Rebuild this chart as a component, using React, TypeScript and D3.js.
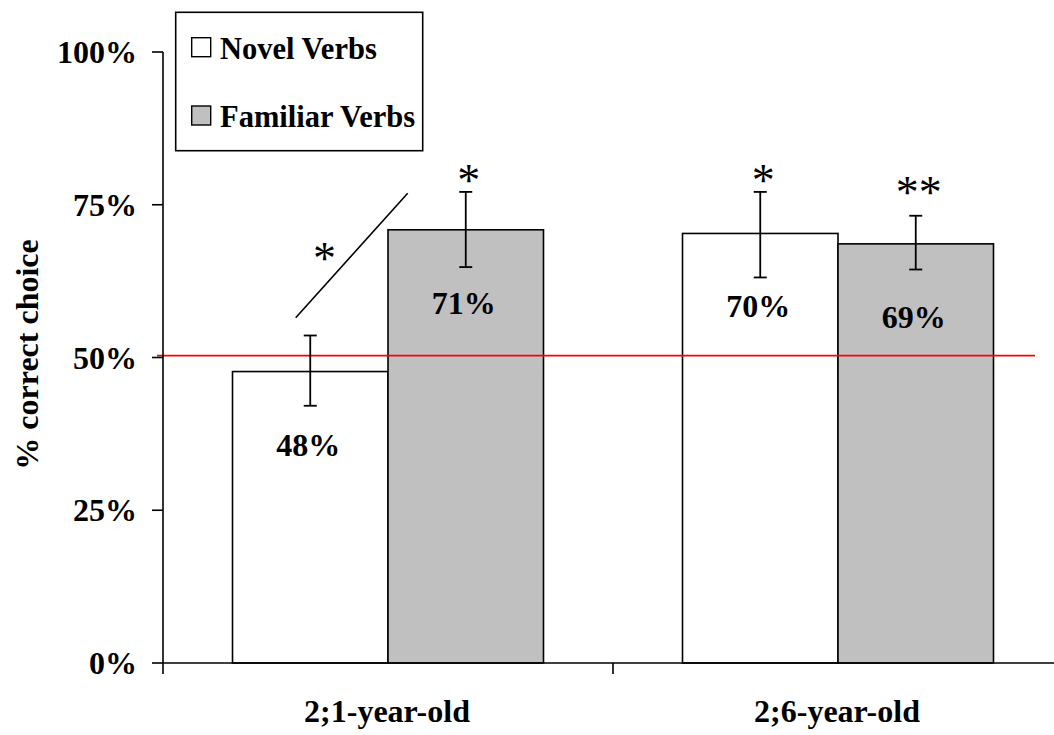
import React from "react";
import * as d3 from "d3";

const categories = ["2;1-year-old", "2;6-year-old"];
const seriesNames = ["Novel Verbs", "Familiar Verbs"];
const seriesColors = ["#ffffff", "#c0c0c0"];
const novelValues = [47.7, 70.3];
const familiarValues = [70.9, 68.6];
const novelErrLow = [42.1, 63.1];
const novelErrHigh = [53.6, 77.1];
const familiarErrLow = [64.8, 64.4];
const familiarErrHigh = [77.1, 73.2];
const novelLabels = ["48%", "70%"];
const familiarLabels = ["71%", "69%"];
const novelStars = ["", "*"];
const familiarStars = ["*", "**"];
const yTicks = [0, 25, 50, 75, 100];
const chanceLevel = 50.3;

const W = 1054;
const H = 735;
const FONT = "'Liberation Serif', 'Times New Roman', serif";
const FS = 32;
// vertical gap (px) between top of error bar and centre of the star annotation
const starGap = [[0, 20], [20, 32]];

export default function App() {
  const x0 = 163;
  const x1 = 1063;
  const yScale = d3.scaleLinear().domain([0, 100]).range([663, 52]);
  const xCat = d3.scaleBand<string>().domain(categories).range([x0, x1]).paddingInner(0).paddingOuter(0);
  const xSeries = d3
    .scaleBand<string>()
    .domain(seriesNames)
    .range([0, xCat.bandwidth()])
    .paddingInner(0)
    .paddingOuter(0.447);

  const series = [
    { name: seriesNames[0], values: novelValues, lo: novelErrLow, hi: novelErrHigh, labels: novelLabels, stars: novelStars, color: seriesColors[0] },
    { name: seriesNames[1], values: familiarValues, lo: familiarErrLow, hi: familiarErrHigh, labels: familiarLabels, stars: familiarStars, color: seriesColors[1] },
  ];

  const capHalf = 6.5;
  const ticksX = [x0, ...categories.map((c) => (xCat(c) as number) + xCat.bandwidth())];
  const starFS = 46;

  return (
    <svg width={W} height={H} style={{ position: "absolute", left: 0, top: 0, background: "#fff" }} fontFamily={FONT} fontWeight="bold">
      {series.map((s) =>
        categories.map((c, i) => {
          const bx = (xCat(c) as number) + (xSeries(s.name) as number);
          const bw = xSeries.bandwidth();
          const top = yScale(s.values[i]);
          return (
            <rect key={s.name + c} x={bx} y={top} width={bw} height={yScale(0) - top} fill={s.color} stroke="#000" strokeWidth={1.6} />
          );
        })
      )}
      <line x1={157} x2={1035} y1={yScale(chanceLevel)} y2={yScale(chanceLevel)} stroke="#ff0000" strokeWidth={1.8} />
      {series.map((s) =>
        categories.map((c, i) => {
          const cx = (xCat(c) as number) + (xSeries(s.name) as number) + xSeries.bandwidth() / 2;
          const yl = yScale(s.lo[i]);
          const yh = yScale(s.hi[i]);
          return (
            <g key={"e" + s.name + c} stroke="#000" strokeWidth={1.8}>
              <line x1={cx} x2={cx} y1={yh} y2={yl} />
              <line x1={cx - capHalf} x2={cx + capHalf} y1={yh} y2={yh} />
              <line x1={cx - capHalf} x2={cx + capHalf} y1={yl} y2={yl} />
            </g>
          );
        })
      )}
      {series.map((s) =>
        categories.map((c, i) => {
          const cx = (xCat(c) as number) + (xSeries(s.name) as number) + xSeries.bandwidth() / 2 - 2;
          return (
            <text key={"l" + s.name + c} x={cx} y={yScale(s.values[i]) + 84} textAnchor="middle" fontSize={FS}>
              {s.labels[i]}
            </text>
          );
        })
      )}
      {series.map((s, si) =>
        categories.map((c, i) => {
          if (!s.stars[i]) return null;
          const cx = (xCat(c) as number) + (xSeries(s.name) as number) + xSeries.bandwidth() / 2 + 3;
          const centre = yScale(s.hi[i]) - starGap[si][i];
          return (
            <text key={"s" + s.name + c} x={cx} y={centre + 0.53 * starFS} textAnchor="middle" fontSize={starFS} fontWeight="normal">
              {s.stars[i]}
            </text>
          );
        })
      )}
      <line x1={295.7} y1={317.7} x2={407.7} y2={193.3} stroke="#000" strokeWidth={1.6} />
      <text x={324.5} y={250 + 0.53 * starFS} textAnchor="middle" fontSize={starFS} fontWeight="normal">*</text>

      <line x1={x0} x2={x0} y1={yScale(100)} y2={yScale(0)} stroke="#000" strokeWidth={1.6} />
      {yTicks.map((t) => (
        <g key={"yt" + t}>
          <line x1={152} x2={x0} y1={yScale(t)} y2={yScale(t)} stroke="#000" strokeWidth={1.6} />
          <text x={137} y={yScale(t) + 11} textAnchor="end" fontSize={FS}>
            {t + "%"}
          </text>
        </g>
      ))}
      <line x1={x0} x2={x1} y1={yScale(0)} y2={yScale(0)} stroke="#000" strokeWidth={1.6} />
      {ticksX.map((tx, i) => (
        <line key={"xt" + i} x1={tx} x2={tx} y1={yScale(0)} y2={yScale(0) + 11} stroke="#000" strokeWidth={1.6} />
      ))}
      {categories.map((c) => (
        <text key={"c" + c} x={(xCat(c) as number) + xCat.bandwidth() / 2 - 1} y={722} textAnchor="middle" fontSize={FS}>
          {c}
        </text>
      ))}
      <text transform={`translate(38, ${yScale(50.5)}) rotate(-90)`} textAnchor="middle" fontSize={FS}>
        % correct choice
      </text>

      <rect x={175.7} y={12.3} width={247} height={138.4} fill="#fff" stroke="#000" strokeWidth={1.6} />
      {seriesNames.map((n, i) => (
        <g key={"lg" + n}>
          <rect x={191.7} y={37.7 + i * 68.3} width={19} height={19} fill={seriesColors[i]} stroke="#000" strokeWidth={1.4} />
          <text x={220} y={59.3 + i * 67.4} fontSize={30.5}>
            {n}
          </text>
        </g>
      ))}
    </svg>
  );
}
